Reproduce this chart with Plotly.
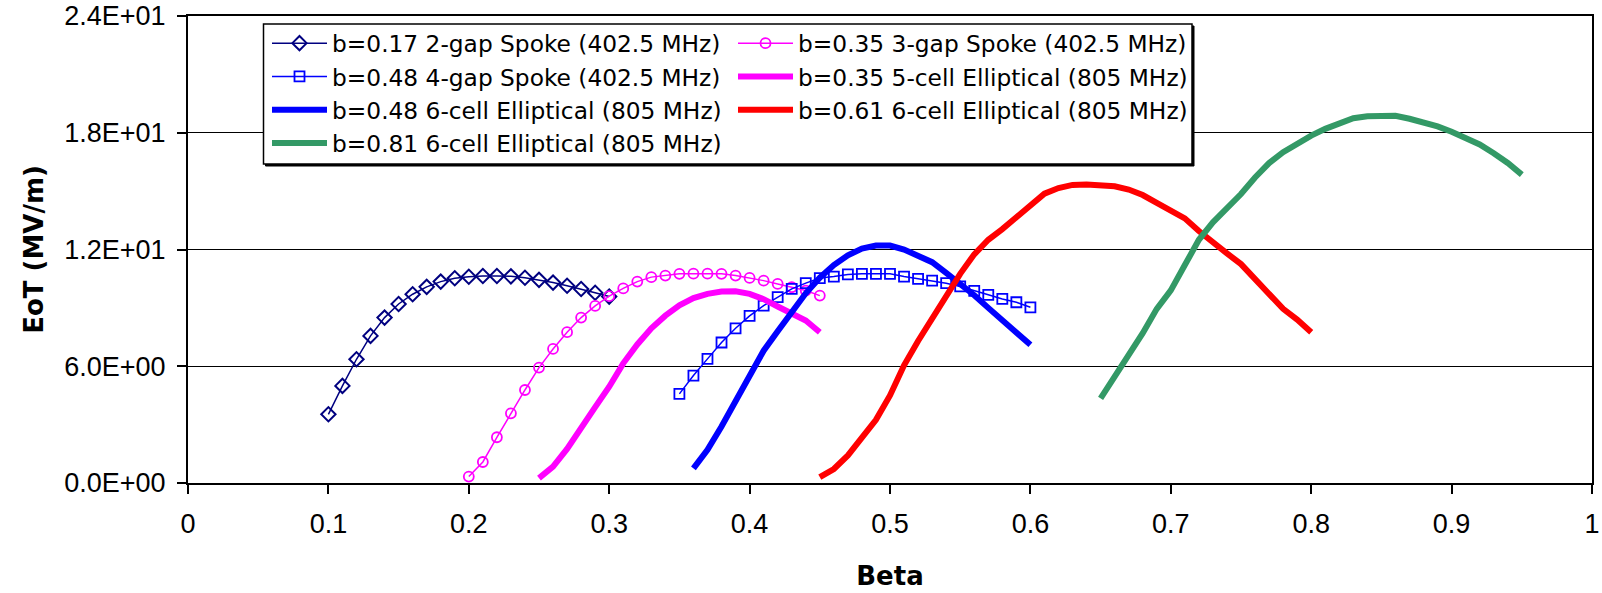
import plotly.graph_objects as go

# ---------------- data ----------------
beta_s017 = [0.10, 0.11, 0.12, 0.13, 0.14, 0.15, 0.16, 0.17, 0.18, 0.19, 0.20,
             0.21, 0.22, 0.23, 0.24, 0.25, 0.26, 0.27, 0.28, 0.29, 0.30]
eot_s017 = [3.53, 4.99, 6.36, 7.56, 8.50, 9.20, 9.70, 10.08, 10.35, 10.52, 10.60,
            10.64, 10.64, 10.62, 10.55, 10.44, 10.30, 10.14, 9.97, 9.78, 9.58]

beta_s035 = [0.20, 0.21, 0.22, 0.23, 0.24, 0.25, 0.26, 0.27, 0.28, 0.29, 0.30, 0.31, 0.32,
             0.33, 0.34, 0.35, 0.36, 0.37, 0.38, 0.39, 0.40, 0.41, 0.42, 0.43, 0.44, 0.45]
eot_s035 = [0.33, 1.08, 2.35, 3.58, 4.78, 5.93, 6.89, 7.75, 8.50, 9.10, 9.60, 10.00, 10.35,
            10.58, 10.66, 10.75, 10.76, 10.76, 10.75, 10.66, 10.54, 10.40, 10.23, 10.06, 9.89, 9.63]

beta_s048 = [0.35, 0.36, 0.37, 0.38, 0.39, 0.40, 0.41, 0.42, 0.43, 0.44, 0.45, 0.46, 0.47,
             0.48, 0.49, 0.50, 0.51, 0.52, 0.53, 0.54, 0.55, 0.56, 0.57, 0.58, 0.59, 0.60]
eot_s048 = [4.58, 5.52, 6.38, 7.22, 7.95, 8.59, 9.12, 9.55, 9.98, 10.27, 10.53, 10.61, 10.72,
            10.75, 10.75, 10.75, 10.61, 10.49, 10.40, 10.27, 10.10, 9.87, 9.67, 9.46, 9.29, 9.03]

beta_e035 = [0.25, 0.26, 0.27, 0.28, 0.29, 0.30, 0.31, 0.32, 0.33, 0.34, 0.35,
             0.36, 0.37, 0.38, 0.39, 0.40, 0.41, 0.42, 0.43, 0.44, 0.45]
eot_e035 = [0.25, 0.84, 1.75, 2.76, 3.90, 4.95, 6.15, 7.12, 7.95, 8.60, 9.13,
            9.50, 9.72, 9.84, 9.85, 9.72, 9.45, 9.07, 8.72, 8.35, 7.75]

beta_e048 = [0.36, 0.37, 0.38, 0.39, 0.40, 0.41, 0.42, 0.43, 0.44, 0.45, 0.46, 0.47, 0.48,
             0.49, 0.50, 0.51, 0.52, 0.53, 0.54, 0.55, 0.56, 0.57, 0.58, 0.59, 0.60]
eot_e048 = [0.75, 1.70, 2.90, 4.20, 5.55, 6.80, 7.80, 8.75, 9.75, 10.55, 11.20, 11.70, 12.05,
            12.20, 12.20, 12.00, 11.70, 11.35, 10.80, 10.25, 9.65, 9.00, 8.35, 7.70, 7.10]

beta_e061 = [0.45, 0.46, 0.47, 0.48, 0.49, 0.50, 0.51, 0.52, 0.53, 0.54, 0.55, 0.56,
             0.57, 0.58, 0.59, 0.60, 0.61, 0.62, 0.63, 0.64, 0.65, 0.66, 0.67, 0.68,
             0.69, 0.70, 0.71, 0.72, 0.73, 0.74, 0.75, 0.76, 0.77, 0.78, 0.79, 0.80]
eot_e061 = [0.30, 0.72, 1.42, 2.30, 3.25, 4.50, 6.05, 7.30, 8.45, 9.65, 10.75, 11.75,
            12.50, 13.05, 13.65, 14.35, 14.87, 15.16, 15.32, 15.34, 15.32, 15.25, 15.08, 14.80,
            14.40, 14.00, 13.60, 12.95, 12.35, 11.80, 11.25, 10.50, 9.70, 8.95, 8.40, 7.75]

beta_e081 = [0.65, 0.66, 0.67, 0.68, 0.69, 0.70, 0.71, 0.72, 0.73, 0.74, 0.75,
             0.76, 0.77, 0.78, 0.79, 0.80, 0.81, 0.82, 0.83, 0.84, 0.85,
             0.86, 0.87, 0.88, 0.89, 0.90, 0.91, 0.92, 0.93, 0.94, 0.95]
eot_e081 = [4.35, 5.45, 6.60, 7.70, 8.95, 9.90, 11.20, 12.50, 13.40, 14.10, 14.85,
            15.70, 16.44, 17.00, 17.45, 17.85, 18.20, 18.50, 18.75, 18.85, 18.87,
            18.87, 18.72, 18.52, 18.33, 18.05, 17.72, 17.40, 16.95, 16.45, 15.85]

series_names = [
    "b=0.17 2-gap Spoke (402.5 MHz)",
    "b=0.35 3-gap Spoke (402.5 MHz)",
    "b=0.48 4-gap Spoke (402.5 MHz)",
    "b=0.35 5-cell Elliptical (805 MHz)",
    "b=0.48 6-cell Elliptical (805 MHz)",
    "b=0.61 6-cell Elliptical (805 MHz)",
    "b=0.81 6-cell Elliptical (805 MHz)",
]

y_tickvals = [0, 6, 12, 18, 24]
y_ticktext = ["0.0E+00", "6.0E+00", "1.2E+01", "1.8E+01", "2.4E+01"]

# ---------------- geometry ----------------
# body margin is reset to 0 by a post script, so page pixels == figure pixels
W, H = 1602, 593
ML, MR, MT, MB = 188, 10, 16, 110
PW, PH = W - ML - MR, H - MT - MB


def px_x(p):  # page pixel -> paper fraction
    return (p - ML) / PW


def px_y(p):
    return 1 - (p - MT) / PH


fig = go.Figure()
TEXT_FONT = "Liberation Sans, Arial, sans-serif"
LEG_FONT = "DejaVu Sans, Verdana, sans-serif"
TITLE_FONT = "DejaVu Sans, sans-serif"

fig.add_trace(go.Scatter(x=beta_s017, y=eot_s017, name=series_names[0], mode="lines+markers",
                         line=dict(color="#000080", width=1.5),
                         marker=dict(symbol="diamond-open", size=11, color="#000080", line=dict(width=2)),
                         legend="legend"))
fig.add_trace(go.Scatter(x=beta_s035, y=eot_s035, name=series_names[1], mode="lines+markers",
                         line=dict(color="#FF00FF", width=1.5),
                         marker=dict(symbol="circle-open", size=10, color="#FF00FF", line=dict(width=1.8)),
                         legend="legend2"))
fig.add_trace(go.Scatter(x=beta_s048, y=eot_s048, name=series_names[2], mode="lines+markers",
                         line=dict(color="#0000FF", width=1.5),
                         marker=dict(symbol="square-open", size=10, color="#0000FF", line=dict(width=1.8)),
                         legend="legend"))
fig.add_trace(go.Scatter(x=beta_e035, y=eot_e035, name=series_names[3], mode="lines",
                         line=dict(color="#FF00FF", width=6), legend="legend2"))
fig.add_trace(go.Scatter(x=beta_e048, y=eot_e048, name=series_names[4], mode="lines",
                         line=dict(color="#0000FF", width=6), legend="legend"))
fig.add_trace(go.Scatter(x=beta_e061, y=eot_e061, name=series_names[5], mode="lines",
                         line=dict(color="#FF0000", width=6), legend="legend2"))
fig.add_trace(go.Scatter(x=beta_e081, y=eot_e081, name=series_names[6], mode="lines",
                         line=dict(color="#339966", width=6), legend="legend"))

# legend frame (box with a small drop shadow), page pixel positions
bx0, bx1, by0, by1 = 263.5, 1192, 24, 164
fig.add_shape(type="rect", xref="paper", yref="paper", layer="above",
              x0=px_x(bx0 + 2), x1=px_x(bx1 + 2), y0=px_y(by1 + 2), y1=px_y(by0 + 2),
              line=dict(color="black", width=1), fillcolor="black")
fig.add_shape(type="rect", xref="paper", yref="paper", layer="above",
              x0=px_x(bx0), x1=px_x(bx1), y0=px_y(by1), y1=px_y(by0),
              line=dict(color="black", width=1.5), fillcolor="white")

legend_common = dict(font=dict(family=LEG_FONT, size=23.3, color="black"),
                     bgcolor="rgba(0,0,0,0)", borderwidth=0, itemwidth=55,
                     xanchor="left", yanchor="top", orientation="v",
                     tracegroupgap=0, itemclick=False, itemdoubleclick=False)

fig.update_layout(
    width=W, height=H,
    margin=dict(l=ML, r=MR, t=MT, b=MB, autoexpand=False),
    paper_bgcolor="white", plot_bgcolor="white",
    showlegend=True,
    legend=dict(x=px_x(267), y=px_y(21.5), **legend_common),
    legend2=dict(x=px_x(733), y=px_y(21.5), **legend_common),
    xaxis=dict(
        range=[0, 1], dtick=0.1, tick0=0,
        showline=True, linecolor="black", linewidth=2, mirror=True,
        ticks="outside", ticklen=9, tickwidth=2, tickcolor="black",
        showgrid=False, zeroline=False,
        tickfont=dict(family=TEXT_FONT, size=27, color="black"),
        ticklabelstandoff=7, ticklabeloverflow="allow",
        title=dict(text="<b>Beta</b>", font=dict(family=TITLE_FONT, size=26, color="black"),
                   standoff=28),
        automargin=False,
    ),
    yaxis=dict(
        range=[0, 24], tickvals=y_tickvals, ticktext=y_ticktext,
        showline=True, linecolor="black", linewidth=2, mirror=True,
        ticks="outside", ticklen=9, tickwidth=2, tickcolor="black",
        showgrid=True, gridcolor="black", gridwidth=1.3, zeroline=False,
        tickfont=dict(family=TEXT_FONT, size=27, color="black"),
        ticklabelstandoff=6, ticklabeloverflow="allow",
        title=dict(text="<b>EoT (MV/m)</b>", font=dict(family=TITLE_FONT, size=26, color="black"),
                   standoff=13),
        automargin=False,
    ),
)

fig.write_html("out.html", config={"displayModeBar": False},
               post_script="document.body.style.margin='0px';")
